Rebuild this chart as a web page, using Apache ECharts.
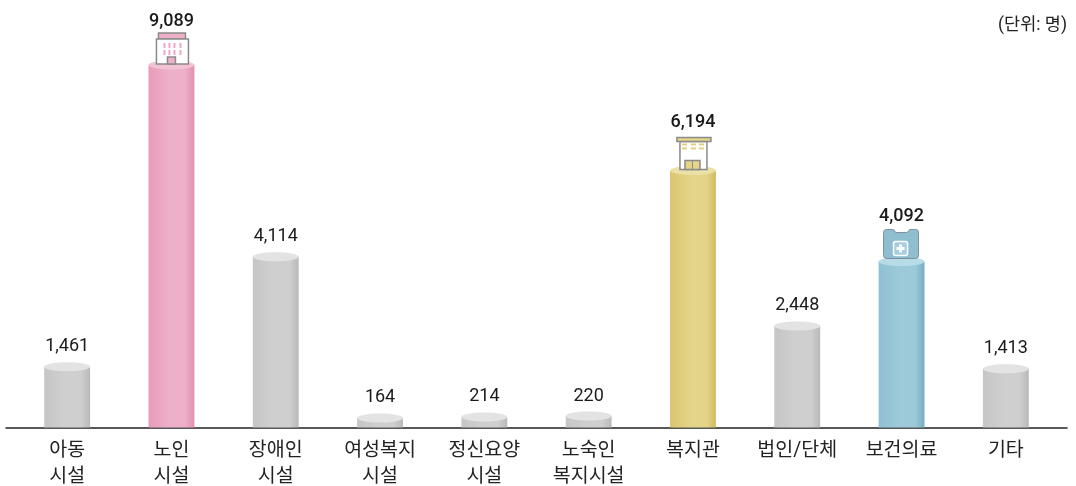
<!DOCTYPE html>
<html>
<head>
<meta charset="utf-8">
<style>
  html, body { margin: 0; padding: 0; background: #fff; }
  #chart { width: 1076px; height: 486px; }
</style>
<script src="https://cdn.jsdelivr.net/npm/echarts@6/dist/echarts.min.js"></script>
</head>
<body>
<div id="chart"></div>
<script>
var categories = ['아동\n시설', '노인\n시설', '장애인\n시설', '여성복지\n시설', '정신요양\n시설', '노숙인\n복지시설', '복지관', '법인/단체', '보건의료', '기타'];
// printed numbers
var values = [1461, 9089, 4114, 164, 214, 220, 6194, 2448, 4092, 1413];
// bar heights as drawn: the picture does not keep strict scale for 노인시설, 보건의료 and the three smallest bars
var drawnValues = [1461, 8735, 4114, 229, 253, 277, 6194, 2448, 4000, 1413];
var kinds = ['grey', 'pink', 'grey', 'grey', 'grey', 'grey', 'yellow', 'grey', 'blue', 'grey'];

var FONT = 'Roboto, "Noto Sans CJK KR", sans-serif';

// 색상: 왼쪽, 가운데, 오른쪽, 윗면
var palette = {
  grey: ['#c6c6c6', '#cfcfcf', '#b9b9b9', '#e3e3e3'],
  pink: ['#e89bb9', '#edb0c8', '#e190b0', '#f3c2d5'],
  yellow: ['#dcc66f', '#e3d488', '#d2ba5e', '#ebe0a6'],
  blue: ['#8fc0d3', '#9ccad9', '#74adc3', '#b7dbe7']
};

function rect(x, y, w, h, fill, stroke) {
  return { type: 'rect', shape: { x: x, y: y, width: w, height: h }, style: { fill: fill, stroke: stroke || null, lineWidth: stroke ? 1.5 : 0 } };
}

// 아이콘은 막대 윗면 중심 기준
function pinkIcon(cx, top) {
  var out = [
    rect(cx - 13, top - 32, 27, 6, '#eeb0c8', '#8a8a8a'),
    rect(cx - 15, top - 26, 32, 25, '#fff', '#8a8a8a')
  ];
  [-8, -3, 2, 8].forEach(function (dx) {
    [-22, -15].forEach(function (dy) {
      out.push(rect(cx + dx, top + dy, 2, 5, '#f0a6c4'));
    });
  });
  out.push(rect(cx - 4, top - 8, 8, 7, '#eeb0c8', '#8a8a8a'));
  return out;
}

function yellowIcon(cx, top) {
  var out = [
    rect(cx - 13, top - 29, 27, 28, '#fff', '#8a8a8a'),
    rect(cx - 16, top - 33, 34, 4, '#e3d488', '#8a8a8a')
  ];
  [-11, -2, 6].forEach(function (dx) {
    [-27, -23].forEach(function (dy) {
      out.push(rect(cx + dx, top + dy, 5, 2, '#e3cf7c'));
    });
  });
  out.push(rect(cx - 8, top - 10, 15, 9, '#e3d488', '#8a8a8a'));
  out.push(rect(cx - 1, top - 10, 1, 9, '#8a8a8a'));
  return out;
}

function blueIcon(cx, top) {
  var x0 = cx - 18, y0 = top - 32;
  return [
    {
      type: 'path',
      shape: {
        pathData: 'M3 0 L9 0 Q11 0 12 3 L23 3 Q25 3 26 0 L32 0 Q35 0 35 3 L35 26 Q35 29 32 29 L3 29 Q0 29 0 26 L0 3 Q0 0 3 0 Z',
        x: x0, y: y0, width: 35, height: 29
      },
      style: { fill: '#8fbed1', stroke: '#7d8f99', lineWidth: 1 }
    },
    { type: 'rect', shape: { x: cx - 8, y: top - 20, width: 14, height: 14, r: 2 }, style: { fill: '#a5cfde', stroke: '#fff', lineWidth: 1.5 } },
    rect(cx - 5, top - 14.5, 8, 3, '#fff'),
    rect(cx - 2.5, top - 17, 3, 8, '#fff')
  ];
}

var icons = { pink: pinkIcon, yellow: yellowIcon, blue: blueIcon };
var labelGap = { grey: 20, pink: 43, yellow: 48, blue: 45 };

function renderCylinder(params, api) {
  var i = api.value(0);
  var top = api.coord([i, api.value(1)]);
  var base = api.coord([i, 0]);
  var bw = api.size([1, 0])[0] * 0.44;
  var kind = kinds[i];
  var c = palette[kind];
  var cx = top[0];
  var children = [
    {
      type: 'rect',
      shape: { x: cx - bw / 2, y: top[1], width: bw, height: base[1] - top[1] },
      style: {
        fill: new echarts.graphic.LinearGradient(0, 0, 1, 0, [
          { offset: 0, color: c[0] },
          { offset: 0.45, color: c[1] },
          { offset: 0.8, color: c[1] },
          { offset: 1, color: c[2] }
        ])
      }
    },
    {
      type: 'ellipse',
      shape: { cx: cx, cy: top[1], rx: bw / 2, ry: 4.5 },
      style: { fill: c[3] }
    }
  ];
  var highlight = icons[kind];
  if (highlight) {
    children = children.concat(highlight(cx, top[1]));
  }
  children.push({
    type: 'text',
    style: {
      x: cx,
      y: top[1] - labelGap[kind],
      text: values[i].toLocaleString('en-US'),
      fontFamily: FONT,
      fontSize: 18,
      fontWeight: highlight ? 500 : 400,
      fill: '#1a1a1a',
      align: 'center',
      verticalAlign: 'middle'
    }
  });
  return { type: 'group', children: children };
}

var chart = echarts.init(document.getElementById('chart'));
chart.setOption({
  animation: false,
  backgroundColor: '#fff',
  title: {
    text: '(단위: 명)',
    right: 4,
    top: 12,
    textStyle: { fontFamily: FONT, fontSize: 17.5, fontWeight: 400, color: '#222' }
  },
  grid: [
    { left: 15, right: 18, top: 0, bottom: 58.5, outerBoundsMode: 'none' },
    { left: 6, right: 9, top: 0, bottom: 58.5, outerBoundsMode: 'none' } // 축선만 좌우로 더 길게
  ],
  xAxis: [
    {
      type: 'category',
      data: categories,
      axisTick: { show: false },
      axisLine: { show: false },
      axisLabel: {
        interval: 0,
        margin: 11,
        fontFamily: FONT,
        fontSize: 19.5,
        lineHeight: 26,
        color: '#222'
      }
    },
    {
      gridIndex: 1,
      type: 'value',
      min: 0,
      max: 1,
      axisTick: { show: false },
      axisLabel: { show: false },
      splitLine: { show: false },
      axisLine: { show: true, onZero: false, lineStyle: { color: '#222', width: 1.5 } }
    }
  ],
  yAxis: [
    { type: 'value', min: 0, max: 10300, show: false },
    { gridIndex: 1, type: 'value', min: 0, max: 1, show: false }
  ],
  series: [
    {
      type: 'custom',
      clip: false,
      data: drawnValues.map(function (v, i) { return [i, v]; }),
      encode: { x: 0, y: 1 },
      renderItem: renderCylinder,
      z: 1
    }
  ]
});
</script>
</body>
</html>
